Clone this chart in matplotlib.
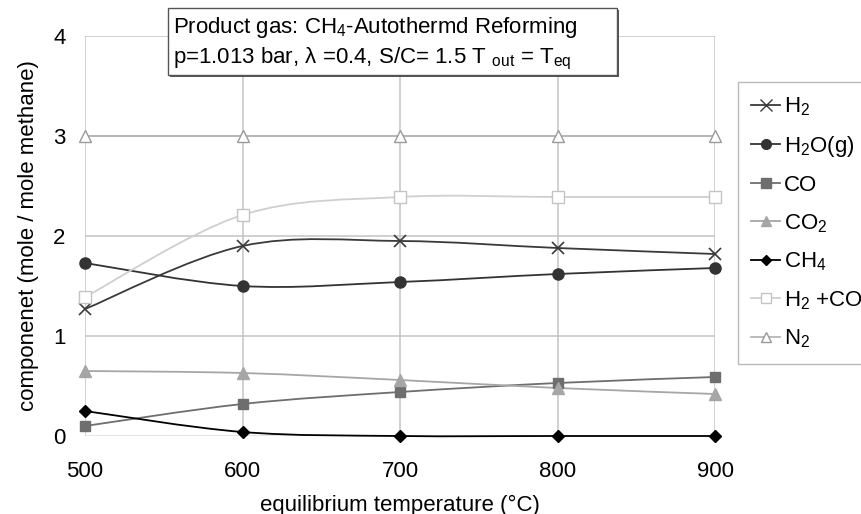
'''
plot_equilibrium
-----------------------------------------------------------
product gas composition of CH4 autothermal reforming
over equilibrium temperature.
'''
# load packages -------------------------------------------
import numpy as np
import matplotlib
matplotlib.use('Agg')
import matplotlib.pyplot as plt
from matplotlib.path import Path
from matplotlib.patches import PathPatch, Rectangle
from matplotlib.lines import Line2D

plt.rcParams['font.family'] = ['Liberation Sans', 'DejaVu Sans']
plt.rcParams['mathtext.fontset'] = 'custom'
plt.rcParams['mathtext.rm'] = 'Liberation Sans'
plt.rcParams['mathtext.it'] = 'Liberation Sans'

# data ----------------------------------------------------
temp = [500, 600, 700, 800, 900]  # deg C

h2 = [1.27, 1.90, 1.95, 1.88, 1.82]
h2o = [1.73, 1.50, 1.54, 1.62, 1.68]
co = [0.10, 0.32, 0.44, 0.53, 0.59]
co2 = [0.65, 0.63, 0.56, 0.48, 0.42]
ch4 = [0.25, 0.04, 0.0, 0.0, 0.0]
h2_co = [1.39, 2.21, 2.39, 2.39, 2.39]
n2 = [3.0, 3.0, 3.0, 3.0, 3.0]

labels = ['H$_2$', 'H$_2$O(g)', 'CO', 'CO$_2$', 'CH$_4$', 'H$_2$ +CO', 'N$_2$']
series = [h2, h2o, co, co2, ch4, h2_co, n2]

# style per series: line colour, marker, marker face, marker edge, size
styles = [
    ('#3a3a3a', 'x', '#3a3a3a', '#3a3a3a', 9),
    ('#333333', 'o', '#333333', '#333333', 8),
    ('#6e6e6e', 's', '#6e6e6e', '#6e6e6e', 7.5),
    ('#a6a6a6', '^', '#a6a6a6', '#a6a6a6', 8),
    ('#000000', 'D', '#000000', '#000000', 6),
    ('#cfcfcf', 's', 'white', '#c4c4c4', 8),
    ('#b5b5b5', '^', 'white', '#9a9a9a', 8),
]

fs = 16


# smoothed line (catmull-rom as cubic bezier) -------------
def smooth_path(x, y):
    pts = np.column_stack([x, y]).astype(float)
    n = len(pts)
    verts = [pts[0]]
    codes = [Path.MOVETO]
    for i in range(n - 1):
        p0 = pts[max(i - 1, 0)]
        p1 = pts[i]
        p2 = pts[i + 1]
        p3 = pts[min(i + 2, n - 1)]
        verts += [p1 + (p2 - p0) / 6, p2 - (p3 - p1) / 6, p2]
        codes += [Path.CURVE4] * 3
    return Path(verts, codes)


# plot data -----------------------------------------------
fig = plt.figure(figsize=(8.61, 5.14), dpi=100)
ax = fig.add_axes([85 / 861, 1 - 436 / 514, 630 / 861, 400 / 514])

ax.set_xlim(500, 900)
ax.set_ylim(0, 4)
ax.set_xticks(temp)
ax.set_yticks([0, 1, 2, 3, 4])
ax.grid(True, color='#c4c4c4', lw=1.1)
ax.set_axisbelow(True)
for s in ax.spines.values():
    s.set_visible(False)
ax.tick_params(length=0, labelsize=fs)
ax.tick_params(axis='y', pad=14)
ax.tick_params(axis='x', pad=18)
ax.get_ygridlines()[0].set_color('#dedede')

handles = []
for vals, lab, (lc, mk, mf, me, ms) in zip(series, labels, styles):
    ax.add_patch(PathPatch(smooth_path(temp, vals), fill=False,
                           edgecolor=lc, lw=1.3, zorder=3, clip_on=False))
    ax.plot(temp, vals, ls='none', marker=mk, ms=ms, mfc=mf, mec=me,
            mew=1.2 if mk == 'x' else 1.0, zorder=4, clip_on=False)
    handles.append(Line2D([], [], color=lc, lw=1.3, marker=mk, ms=ms - 1,
                          mfc=mf, mec=me, label=lab))

ax.set_xlabel('equilibrium temperature (°C)', fontsize=fs, labelpad=9)
ax.set_ylabel('componenet (mole / mole methane)', fontsize=fs, labelpad=10)

# legend on the right, cut by the figure edge
leg = fig.legend(handles=handles, loc='upper left',
                 bbox_to_anchor=(738 / 861, 1 - 82 / 514),
                 bbox_transform=fig.transFigure, borderaxespad=0,
                 fontsize=fs, frameon=True, fancybox=False,
                 handlelength=1.3, handletextpad=0.15, labelspacing=0.72,
                 borderpad=0.6)
leg.get_frame().set_edgecolor('#a8a8a8')
leg.get_frame().set_linewidth(1.0)

# title box with shadow
bx, by, bw, bh = 168 / 861, 1 - 75 / 514, 449 / 861, 67 / 514
fig.patches.append(Rectangle((bx + 2 / 861, by - 2 / 514), bw, bh,
                             transform=fig.transFigure, facecolor='#555555',
                             edgecolor='none', zorder=5))
fig.patches.append(Rectangle((bx, by), bw, bh, transform=fig.transFigure,
                             facecolor='white', edgecolor='#555555',
                             lw=1.0, zorder=6))
fig.text(173 / 861, 1 - 33 / 514,
         'Product gas: CH$_4$-Autothermd Reforming',
         fontsize=fs, va='baseline', ha='left', zorder=7)
fig.text(173 / 861, 1 - 63 / 514,
         'p=1.013 bar, \u03bb =0.4, S/C= 1.5 T $_{\\rm out}$ = T$_{\\rm eq}$',
         fontsize=fs, va='baseline', ha='left', zorder=7)

fig.savefig('out.png', dpi=100)
